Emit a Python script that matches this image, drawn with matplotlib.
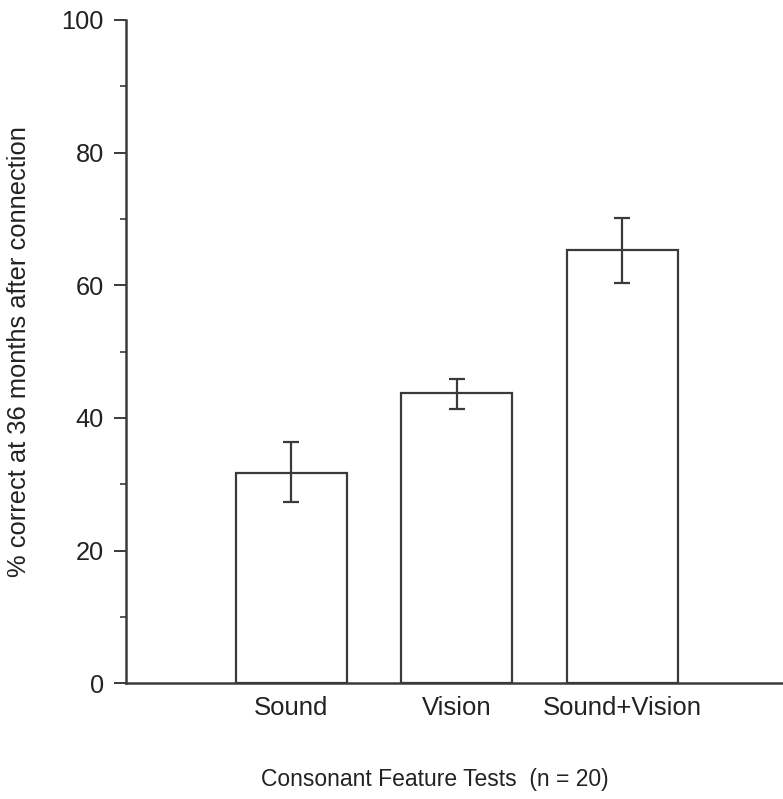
import matplotlib
matplotlib.use("Agg")
import matplotlib.pyplot as plt
from matplotlib.ticker import MultipleLocator

categories = ["Sound", "Vision", "Sound+Vision"]
means = [31.7, 43.7, 65.3]
err_low = [27.3, 41.3, 60.3]
err_high = [36.3, 45.9, 70.2]
yticks = [0, 20, 40, 60, 80, 100]

plt.rcParams['font.family'] = ['Liberation Sans', 'DejaVu Sans']
ink = "#3a3a3a"

fig = plt.figure(figsize=(7.83, 7.99), dpi=100)
ax = fig.add_axes([0.161, 0.145, 0.845, 0.830])

pos = [1, 2, 3]
yerr = [[m - lo for m, lo in zip(means, err_low)],
        [hi - m for m, hi in zip(means, err_high)]]
ax.bar(pos, means, width=0.67, facecolor="white", edgecolor=ink, linewidth=1.6, zorder=2)
ax.errorbar(pos, means, yerr=yerr, fmt="none", ecolor=ink, elinewidth=1.6,
            capsize=6, capthick=1.6, zorder=3)

ax.set_xlim(0, 4)
ax.set_ylim(0, 100)
ax.set_yticks(yticks)
ax.yaxis.set_minor_locator(MultipleLocator(10))
ax.set_xticks(pos)
ax.set_xticklabels(categories)

for s in ["top", "right"]:
    ax.spines[s].set_visible(False)
for s in ["left", "bottom"]:
    ax.spines[s].set_color(ink)
    ax.spines[s].set_linewidth(1.8)

ax.tick_params(axis="y", which="major", length=9, width=1.4, color=ink,
               labelsize=18.3, pad=7, labelcolor="#222222")
ax.tick_params(axis="y", which="minor", length=4.5, width=1.2, color=ink)
ax.tick_params(axis="x", length=0, labelsize=18.5, pad=9, labelcolor="#222222")

ax.set_ylabel("% correct at 36 months after connection", fontsize=18.4,
              color="#222222", labelpad=22)
ax.set_xlabel("Consonant Feature Tests  (n = 20)", fontsize=16.5,
              color="#222222")
ax.xaxis.set_label_coords(0.467, -0.128)

fig.savefig("out.png", dpi=100)
